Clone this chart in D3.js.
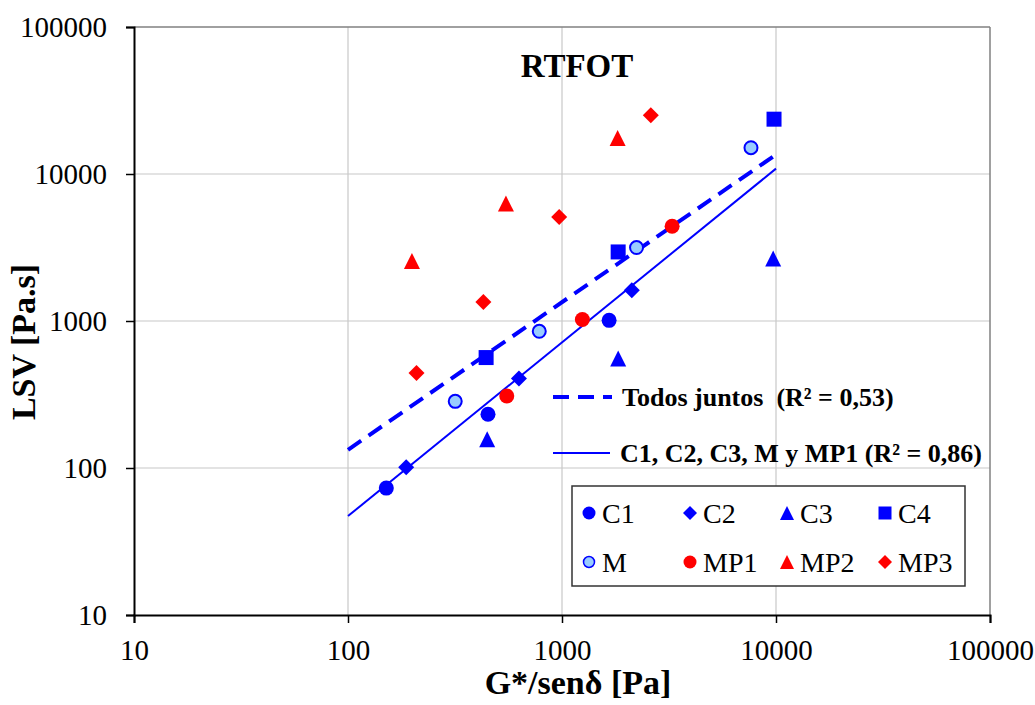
<!DOCTYPE html>
<html>
<head>
<meta charset="utf-8">
<script src="https://cdn.jsdelivr.net/npm/d3@7"></script>
<style>
  html, body { margin: 0; padding: 0; background: #fff; }
  svg { display: block; }
</style>
</head>
<body>
<svg id="chart" width="1035" height="705"></svg>
<script>
// Axis ticks (log decades)
const xTicks = [10, 100, 1000, 10000, 100000];
const yTicks = [10, 100, 1000, 10000, 100000];

// Series: G*/sen(delta) [Pa] vs LSV [Pa.s]
const c1X = [151, 451, 1660];
const c1Y = [73, 232, 1010];
const c2X = [187, 629, 2120];
const c2Y = [101, 407, 1620];
const c3X = [447, 1830, 9700];
const c3Y = [157, 555, 2660];
const c4X = [442, 1830, 9790];
const c4Y = [564, 2950, 23600];
const mX = [317, 783, 2230, 7640];
const mY = [284, 851, 3160, 15100];
const mp1X = [552, 1245, 3270];
const mp1Y = [309, 1023, 4410];
const mp2X = [199, 547, 1820];
const mp2Y = [2560, 6290, 17600];
const mp3X = [209, 429, 970, 2600];
const mp3Y = [443, 1346, 5100, 25100];

// Power-law trend lines (straight on log-log), end points
const trendX = [100, 10000];
const todosY = [133, 13550];
const grupoY = [47.1, 10880];

const seriesNames = ["C1", "C2", "C3", "C4", "M", "MP1", "MP2", "MP3"];
const trendLabels = ["Todos juntos\u00A0\u00A0(R\u00B2 = 0,53)", "C1, C2, C3, M y MP1 (R\u00B2 = 0,86)"];

const BLUE = "#0000FF", RED = "#FF0000", LIGHT = "#99CCFF";
const SERIF = "'Liberation Serif', 'Times New Roman', 'DejaVu Serif', serif";

const series = [
  { name: "C1",  xs: c1X,  ys: c1Y,  shape: "circle",   fill: BLUE },
  { name: "C2",  xs: c2X,  ys: c2Y,  shape: "diamond",  fill: BLUE },
  { name: "C3",  xs: c3X,  ys: c3Y,  shape: "triangle", fill: BLUE },
  { name: "C4",  xs: c4X,  ys: c4Y,  shape: "square",   fill: BLUE },
  { name: "M",   xs: mX,   ys: mY,   shape: "circle",   fill: LIGHT, stroke: BLUE },
  { name: "MP1", xs: mp1X, ys: mp1Y, shape: "circle",   fill: RED },
  { name: "MP2", xs: mp2X, ys: mp2Y, shape: "triangle", fill: RED },
  { name: "MP3", xs: mp3X, ys: mp3Y, shape: "diamond",  fill: RED }
];

const svg = d3.select("#chart");
const L = 134, R = 990, T = 27, B = 615;

const x = d3.scaleLog().domain([10, 100000]).range([L, R]);
const y = d3.scaleLog().domain([10, 100000]).range([B, T]);

// Marker path centred at 0,0; s = nominal size
function markerPath(shape, s) {
  const h = s / 2;
  switch (shape) {
    case "circle":
      return `M${h},0A${h},${h} 0 1,1 ${-h},0A${h},${h} 0 1,1 ${h},0Z`;
    case "square":
      return `M${-h},${-h}H${h}V${h}H${-h}Z`;
    case "diamond":
      return `M0,${-h}L${h},0L0,${h}L${-h},0Z`;
    case "triangle":
      return `M0,${-h}L${h},${h}L${-h},${h}Z`;
  }
}
const plotSize = { circle: 15, square: 15, diamond: 16, triangle: 16 };
const legendSize = { circle: 13, square: 13, diamond: 14, triangle: 14 };

function label(g, size, bold) {
  return g.style("font-family", SERIF).style("font-size", size + "px")
    .style("font-weight", bold ? "bold" : "normal").style("fill", "#000");
}

// Gridlines
const grid = svg.append("g");
grid.selectAll("line.gx").data(xTicks.slice(1, -1)).join("line")
  .attr("x1", d => x(d)).attr("x2", d => x(d)).attr("y1", T).attr("y2", B)
  .attr("stroke", "#C8C8C8").attr("stroke-width", 1.2);
grid.selectAll("line.gy").data(yTicks.slice(1, -1)).join("line")
  .attr("x1", L).attr("x2", R).attr("y1", d => y(d)).attr("y2", d => y(d))
  .attr("stroke", "#C8C8C8").attr("stroke-width", 1.2);

// Plot frame: top/right grey, left/bottom black axes
svg.append("line").attr("x1", L).attr("x2", R).attr("y1", T).attr("y2", T)
  .attr("stroke", "#808080").attr("stroke-width", 1.5);
svg.append("line").attr("x1", R).attr("x2", R).attr("y1", T).attr("y2", B)
  .attr("stroke", "#808080").attr("stroke-width", 1.5);

// Axes
const fmt = d3.format("d");
const xAxis = svg.append("g").attr("transform", `translate(0,${B})`)
  .call(d3.axisBottom(x).tickValues(xTicks).tickFormat(fmt).tickSize(8).tickPadding(16));
const yAxis = svg.append("g").attr("transform", `translate(${L},0)`)
  .call(d3.axisLeft(y).tickValues(yTicks).tickFormat(fmt).tickSize(8).tickPadding(19));
[xAxis, yAxis].forEach(g => {
  g.attr("font-family", null).attr("font-size", null);
  g.select(".domain").attr("stroke", "#000").attr("stroke-width", 2);
  g.selectAll(".tick line").attr("stroke", "#000").attr("stroke-width", 1.5);
  label(g.selectAll(".tick text"), 29, false);
});

// Trend lines
const line = d3.line().x(d => x(d[0])).y(d => y(d[1]));
svg.append("path").datum(d3.zip(trendX, todosY)).attr("d", line)
  .attr("fill", "none").attr("stroke", BLUE).attr("stroke-width", 4)
  .attr("stroke-dasharray", "16,9");
svg.append("path").datum(d3.zip(trendX, grupoY)).attr("d", line)
  .attr("fill", "none").attr("stroke", BLUE).attr("stroke-width", 2);

// Data markers
series.forEach(s => {
  svg.append("g").selectAll("path").data(d3.zip(s.xs, s.ys)).join("path")
    .attr("transform", d => `translate(${x(d[0])},${y(d[1])})`)
    .attr("d", markerPath(s.shape, plotSize[s.shape] - (s.stroke ? 2 : 0)))
    .attr("fill", s.fill)
    .attr("stroke", s.stroke || "none")
    .attr("stroke-width", s.stroke ? 2 : 0);
});

// Title and axis titles
label(svg.append("text").attr("x", 577).attr("y", 77).attr("text-anchor", "middle"), 33, true)
  .text("RTFOT");
label(svg.append("text").attr("transform", "translate(35,342) rotate(-90)")
  .attr("text-anchor", "middle"), 34, true).text("LSV [Pa.s]");
label(svg.append("text").attr("x", 578).attr("y", 694).attr("text-anchor", "middle"), 34, true)
  .text("G*/sen\u03B4 [Pa]");

// Trend line legend
const tl = svg.append("g");
tl.append("line").attr("x1", 553).attr("x2", 612).attr("y1", 397).attr("y2", 397)
  .attr("stroke", BLUE).attr("stroke-width", 4).attr("stroke-dasharray", "16,9");
label(tl.append("text").attr("x", 622).attr("y", 406), 26, true).text(trendLabels[0]);
tl.append("line").attr("x1", 553).attr("x2", 610).attr("y1", 453).attr("y2", 453)
  .attr("stroke", BLUE).attr("stroke-width", 2);
label(tl.append("text").attr("x", 620).attr("y", 462), 26, true).text(trendLabels[1]);

// Series legend box
const lg = svg.append("g");
lg.append("rect").attr("x", 572).attr("y", 486).attr("width", 393).attr("height", 100)
  .attr("fill", "#fff").attr("stroke", "#333").attr("stroke-width", 1.5);
const colX = [589, 690, 787, 885];
const rowY = [513, 562];
series.forEach((s, i) => {
  const cx = colX[i % 4], cy = rowY[Math.floor(i / 4)];
  lg.append("path").attr("transform", `translate(${cx},${cy})`)
    .attr("d", markerPath(s.shape, legendSize[s.shape] - (s.stroke ? 2 : 0)))
    .attr("fill", s.fill).attr("stroke", s.stroke || "none")
    .attr("stroke-width", s.stroke ? 1.5 : 0);
  label(lg.append("text").attr("x", cx + 13).attr("y", cy + 10), 28, false)
    .text(seriesNames[i]);
});
</script>
</body>
</html>
